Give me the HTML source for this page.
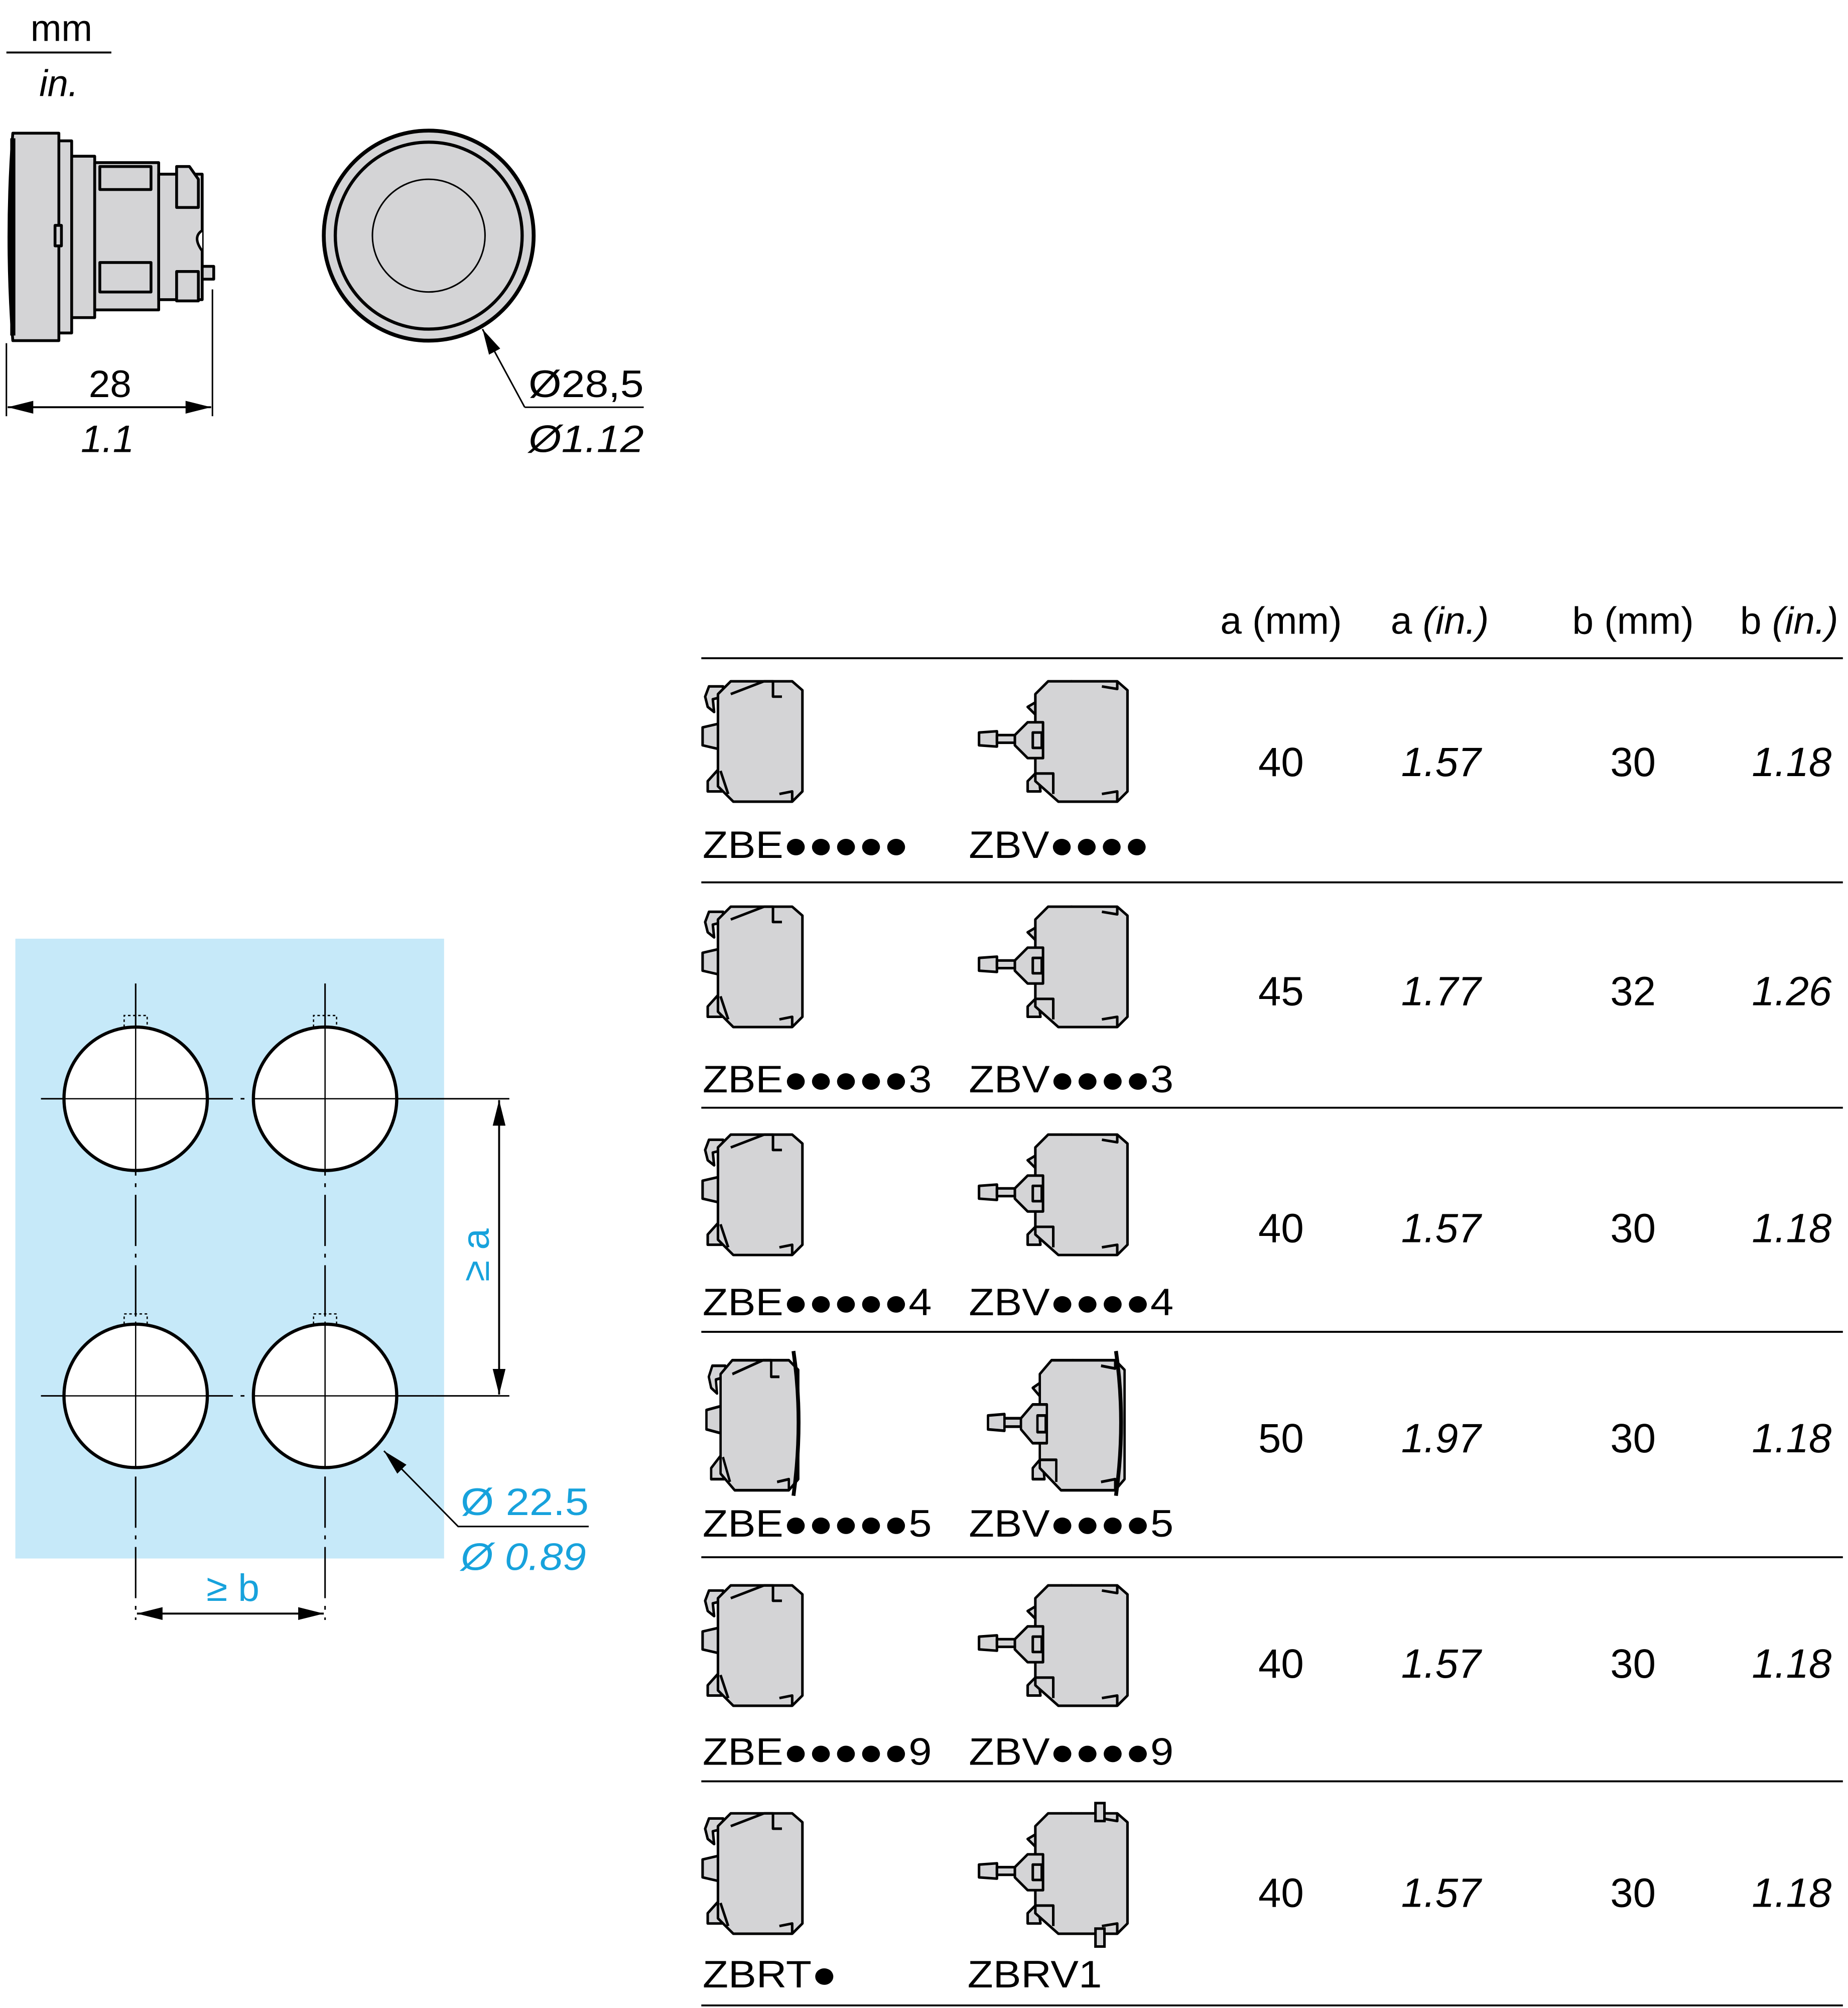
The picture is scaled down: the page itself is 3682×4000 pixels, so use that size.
<!DOCTYPE html>
<html><head><meta charset="utf-8"><style>
html,body{margin:0;padding:0;background:#fff;}
svg{display:block;}
text{font-family:"Liberation Sans","DejaVu Sans",sans-serif;}
</style></head><body>
<svg width="3682" height="4000" viewBox="0 0 1444 1568" preserveAspectRatio="none" xmlns="http://www.w3.org/2000/svg">
<defs>
<marker id="ar" viewBox="0 0 20 10" refX="20" refY="5" markerWidth="20" markerHeight="10" markerUnits="userSpaceOnUse" orient="auto-start-reverse"><path d="M0,0 L20,5 L0,10 Z" fill="#000"/></marker>
<g id="zbe" stroke="#000" stroke-width="2" fill="#d4d4d6" stroke-linejoin="round">
 <path d="M2,14 L5,6 L16,6 L16,14 L8,16 L9,26 L4,22 Z"/>
 <path d="M0,38 L13,35 L13,55 L0,52 Z"/>
 <path d="M4,88 L4,80 L13,70 L15,88 Z"/>
 <path d="M12,12 L22,2 L70,2 L78,9 L78,88 L70,96 L24,96 L12,84 Z"/>
 <path d="M48,2 L55,2 L55,14 L62,14" fill="none"/>
 <path d="M22,12 L48,2 M14,72 L20,90" fill="none"/>
 <path d="M60,90 L70,88 L70,96" fill="none"/>
</g>
<g id="zbv" stroke="#000" stroke-width="2" fill="#d4d4d6" stroke-linejoin="round">
 <path d="M38,22 L72,2 L79,3 L44,28 Z"/>
 <path d="M38,88 L38,80 L46,72 L48,88 Z"/>
 <path d="M44,12 L54,2 L108,2 L116,9 L116,88 L108,96 L62,96 L44,80 Z"/>
 <path d="M0,42 L14,41 L14,53 L0,52 Z"/>
 <path d="M14,44 L28,44 L28,50 L14,50 Z"/>
 <path d="M28,44 L38,34 L50,34 L50,62 L38,62 L28,52 Z"/>
 <rect x="42" y="42" width="7" height="12"/>
 <path d="M44,74 L58,74 L58,90 M96,90 L108,88 L108,96 M96,6 L108,8 L108,2" fill="none"/>
</g>
</defs>

<text x="48" y="32" font-size="29" text-anchor="middle">mm</text>
<line x1="5" y1="41" x2="87" y2="41" stroke="#000" stroke-width="1.5"/>
<text x="46" y="75" font-size="29" font-style="italic" text-anchor="middle">in.</text>

<g stroke="#000" stroke-width="2.2" fill="#d4d4d6" stroke-linejoin="round">
 <path d="M10,104 L46,104 L46,266 L10,266 Q4,185 10,104 Z"/>
 <rect x="46" y="110" width="10" height="150"/>
 <rect x="56" y="122" width="18" height="126"/>
 <rect x="74" y="127" width="50" height="115"/>
 <rect x="124" y="136" width="34" height="98"/>
 <path d="M78,130 L118,130 L118,148 L78,148 Z M78,205 L118,205 L118,228 L78,228 Z"/>
 <path d="M138,130 L148,130 L155,140 L155,162 L138,162 Z M138,212 L155,212 L155,235 L138,235 Z"/>
 <path d="M43,176 L48,176 L48,192 L43,192 Z"/>
 <rect x="158" y="208" width="9" height="10"/>
</g>
<path d="M158,180 Q150,185 158,196" fill="#fff" stroke="#000" stroke-width="2"/>
<line x1="10" y1="108" x2="10" y2="262" stroke="#000" stroke-width="4"/>
<line x1="5" y1="268" x2="5" y2="325" stroke="#000" stroke-width="1.2"/>
<line x1="166" y1="226" x2="166" y2="325" stroke="#000" stroke-width="1.2"/>
<line x1="6" y1="318" x2="165" y2="318" stroke="#000" stroke-width="1.5" marker-start="url(#ar)" marker-end="url(#ar)"/>
<text x="86" y="310" font-size="30" text-anchor="middle">28</text>
<text x="84" y="353" font-size="30" font-style="italic" text-anchor="middle">1.1</text>

<circle cx="335" cy="184" r="82" fill="#d4d4d6" stroke="#000" stroke-width="3"/>
<circle cx="335" cy="184" r="73" fill="#d4d4d6" stroke="#000" stroke-width="2.5"/>
<circle cx="335" cy="184" r="44" fill="#d4d4d6" stroke="#000" stroke-width="1.2"/>
<polyline points="410,318 377,257" fill="none" stroke="#000" stroke-width="1.2" marker-end="url(#ar)"/>
<line x1="410" y1="318" x2="503" y2="318" stroke="#000" stroke-width="1.2"/>
<text x="413" y="310" font-size="30" textLength="90" lengthAdjust="spacingAndGlyphs">Ø28,5</text>
<text x="413" y="353" font-size="30" font-style="italic" textLength="90" lengthAdjust="spacingAndGlyphs">Ø1.12</text>

<rect x="12" y="733" width="335" height="484" fill="#c6e9f9"/>
<g stroke="#000" stroke-width="1.2" stroke-dasharray="40,6,3,6" fill="none">
 <line x1="106" y1="768" x2="106" y2="1265"/>
 <line x1="254" y1="768" x2="254" y2="1265"/>
 <line x1="32" y1="858" x2="340" y2="858"/>
 <line x1="32" y1="1090" x2="340" y2="1090"/>
</g>
<g fill="#fff" stroke="#000" stroke-width="2.5">
 <circle cx="106" cy="858" r="56"/><circle cx="254" cy="858" r="56"/>
 <circle cx="106" cy="1090" r="56"/><circle cx="254" cy="1090" r="56"/>
</g>
<g stroke="#000" stroke-width="1" fill="none">
 <line x1="106" y1="800" x2="106" y2="914"/><line x1="254" y1="800" x2="254" y2="914"/>
 <line x1="106" y1="1032" x2="106" y2="1146"/><line x1="254" y1="1032" x2="254" y2="1146"/>
 <line x1="50" y1="858" x2="162" y2="858"/><line x1="198" y1="858" x2="310" y2="858"/>
 <line x1="50" y1="1090" x2="162" y2="1090"/><line x1="198" y1="1090" x2="310" y2="1090"/>
</g>
<g stroke="#000" stroke-width="1" stroke-dasharray="2,2" fill="none">
 <path d="M97,802 L97,793 L115,793 L115,802"/><path d="M245,802 L245,793 L263,793 L263,802"/>
 <path d="M97,1034 L97,1026 L115,1026 L115,1034"/><path d="M245,1034 L245,1026 L263,1026 L263,1034"/>
</g>
<line x1="340" y1="858" x2="398" y2="858" stroke="#000" stroke-width="1.2"/>
<line x1="340" y1="1090" x2="398" y2="1090" stroke="#000" stroke-width="1.2"/>
<line x1="390" y1="859" x2="390" y2="1089" stroke="#000" stroke-width="1.5" marker-start="url(#ar)" marker-end="url(#ar)"/>
<text transform="translate(382,980) rotate(-90)" font-size="30" fill="#17a2dc" text-anchor="middle">≥ a</text>
<line x1="107" y1="1260" x2="253" y2="1260" stroke="#000" stroke-width="1.5" marker-start="url(#ar)" marker-end="url(#ar)"/>
<text x="182" y="1250" font-size="30" fill="#17a2dc" text-anchor="middle">≥ b</text>
<polyline points="460,1192 358,1192 300,1133" fill="none" stroke="#000" stroke-width="1.2" marker-end="url(#ar)"/>
<text x="360" y="1183" font-size="30" fill="#17a2dc" textLength="100" lengthAdjust="spacingAndGlyphs">Ø 22.5</text>
<text x="360" y="1226" font-size="30" font-style="italic" fill="#17a2dc" textLength="98" lengthAdjust="spacingAndGlyphs">Ø 0.89</text>

<g font-size="30">
 <text x="1001" y="495" text-anchor="middle">a (mm)</text>
 <text x="1125" y="495" text-anchor="middle">a <tspan font-style="italic">(in.)</tspan></text>
 <text x="1276" y="495" text-anchor="middle">b (mm)</text>
 <text x="1398" y="495" text-anchor="middle">b <tspan font-style="italic">(in.)</tspan></text>
</g>
<g stroke="#000" stroke-width="1.5">
 <line x1="548" y1="514" x2="1440" y2="514"/>
 <line x1="548" y1="689" x2="1440" y2="689"/>
 <line x1="548" y1="865" x2="1440" y2="865"/>
 <line x1="548" y1="1040" x2="1440" y2="1040"/>
 <line x1="548" y1="1216" x2="1440" y2="1216"/>
 <line x1="548" y1="1391" x2="1440" y2="1391"/>
 <line x1="548" y1="1566" x2="1440" y2="1566"/>
</g>

<use href="#zbe" transform="translate(549,530)"/>
<use href="#zbv" transform="translate(765,530)"/>
<use href="#zbe" transform="translate(549,706)"/>
<use href="#zbv" transform="translate(765,706)"/>
<use href="#zbe" transform="translate(549,884)"/>
<use href="#zbv" transform="translate(765,884)"/>
<use href="#zbe" transform="translate(552,1060) scale(0.92,1.08)"/>
<use href="#zbv" transform="translate(772,1060) scale(0.92,1.08)"/>
<path d="M620,1055 Q628,1110 620,1168 M872,1055 Q880,1110 872,1168" stroke="#000" stroke-width="3" fill="none"/>
<use href="#zbe" transform="translate(549,1236)"/>
<use href="#zbv" transform="translate(765,1236)"/>
<use href="#zbe" transform="translate(549,1414)"/>
<use href="#zbv" transform="translate(765,1414)"/>
<rect x="856" y="1408" width="7" height="14" fill="#d4d4d6" stroke="#000" stroke-width="2"/>
<rect x="856" y="1506" width="7" height="14" fill="#d4d4d6" stroke="#000" stroke-width="2"/>

<g font-size="30">
 <text x="549" y="670" textLength="161" lengthAdjust="spacingAndGlyphs">ZBE●●●●●</text>
 <text x="757" y="670" textLength="141" lengthAdjust="spacingAndGlyphs">ZBV●●●●</text>
 <text x="549" y="853" textLength="179" lengthAdjust="spacingAndGlyphs">ZBE●●●●●3</text>
 <text x="757" y="853" textLength="160" lengthAdjust="spacingAndGlyphs">ZBV●●●●3</text>
 <text x="549" y="1027" textLength="179" lengthAdjust="spacingAndGlyphs">ZBE●●●●●4</text>
 <text x="757" y="1027" textLength="160" lengthAdjust="spacingAndGlyphs">ZBV●●●●4</text>
 <text x="549" y="1200" textLength="179" lengthAdjust="spacingAndGlyphs">ZBE●●●●●5</text>
 <text x="757" y="1200" textLength="160" lengthAdjust="spacingAndGlyphs">ZBV●●●●5</text>
 <text x="549" y="1378" textLength="179" lengthAdjust="spacingAndGlyphs">ZBE●●●●●9</text>
 <text x="757" y="1378" textLength="160" lengthAdjust="spacingAndGlyphs">ZBV●●●●9</text>
 <text x="549" y="1552" textLength="105" lengthAdjust="spacingAndGlyphs">ZBRT●</text>
 <text x="756" y="1552" textLength="105" lengthAdjust="spacingAndGlyphs">ZBRV1</text>
</g>

<g font-size="32">
 <g text-anchor="middle">
  <text x="1001" y="606">40</text><text x="1276" y="606">30</text>
  <text x="1001" y="785">45</text><text x="1276" y="785">32</text>
  <text x="1001" y="970">40</text><text x="1276" y="970">30</text>
  <text x="1001" y="1134">50</text><text x="1276" y="1134">30</text>
  <text x="1001" y="1310">40</text><text x="1276" y="1310">30</text>
  <text x="1001" y="1489">40</text><text x="1276" y="1489">30</text>
 </g>
 <g text-anchor="middle" font-style="italic">
  <text x="1126" y="606">1.57</text><text x="1400" y="606">1.18</text>
  <text x="1126" y="785">1.77</text><text x="1400" y="785">1.26</text>
  <text x="1126" y="970">1.57</text><text x="1400" y="970">1.18</text>
  <text x="1126" y="1134">1.97</text><text x="1400" y="1134">1.18</text>
  <text x="1126" y="1310">1.57</text><text x="1400" y="1310">1.18</text>
  <text x="1126" y="1489">1.57</text><text x="1400" y="1489">1.18</text>
 </g>
</g>
</svg>
</body></html>
